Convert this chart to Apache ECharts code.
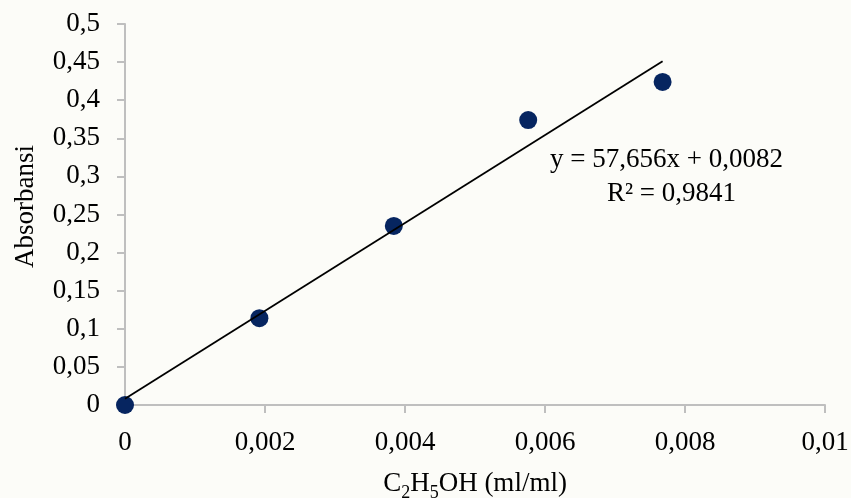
<!DOCTYPE html>
<html>
<head>
<meta charset="utf-8">
<script src="https://cdn.jsdelivr.net/npm/echarts@6/dist/echarts.min.js"></script>
<style>
html,body{margin:0;padding:0;background:#fcfcf8;}
#chart{width:851px;height:498px;}
</style>
</head>
<body>
<div id="chart"></div>
<script>
// Data
var concentration = [0, 0.00192, 0.00384, 0.00576, 0.00768];
var absorbance = [0, 0.114, 0.235, 0.374, 0.424];
var trendSlope = 57.656;
var trendIntercept = 0.0082;
var trendRange = [0, 0.00768];
var equationText = 'y = 57,656x + 0,0082';
var r2Text = 'R² = 0,9841';
var xTicks = [0, 0.002, 0.004, 0.006, 0.008, 0.01];
var yTicks = [0, 0.05, 0.1, 0.15, 0.2, 0.25, 0.3, 0.35, 0.4, 0.45, 0.5];

var font = '"Liberation Serif","Times New Roman",serif';
function fmt(v){ return String(+v.toFixed(6)).replace('.', ','); }

var chart = echarts.init(document.getElementById('chart'), null, {renderer:'canvas'});
var pts = concentration.map(function(x,i){ return [x, absorbance[i]]; });
var trend = trendRange.map(function(x){ return [x, trendSlope*x + trendIntercept]; });

chart.setOption({
  backgroundColor: '#fcfcf8',
  animation: false,
  grid: {left:125, right:26, top:24, bottom:93, containLabel:false, outerBoundsMode:'none'},
  xAxis: {
    type:'value', min:xTicks[0], max:xTicks[xTicks.length-1], interval:0.002,
    name:'{a|C}{s|2}{a|H}{s|5}{a|OH (ml/ml)}', nameLocation:'middle', nameGap:62,
    nameTextStyle:{rich:{
      a:{fontFamily:font, fontSize:27, color:'#000', verticalAlign:'bottom', lineHeight:30},
      s:{fontFamily:font, fontSize:18, color:'#000', verticalAlign:'bottom', lineHeight:22, padding:[0,0,-5,0]}
    }},
    axisLine:{show:true, lineStyle:{color:'#bfbfbf', width:2}},
    axisTick:{show:true, inside:false, length:8, lineStyle:{color:'#bfbfbf', width:2}},
    splitLine:{show:false},
    axisLabel:{fontFamily:font, fontSize:27, color:'#000', margin:24, formatter:fmt}
  },
  yAxis: {
    type:'value', min:yTicks[0], max:yTicks[yTicks.length-1], interval:0.05,
    name:'Absorbansi', nameLocation:'middle', nameGap:86,
    nameTextStyle:{fontFamily:font, fontSize:27, color:'#000', padding:[0,0,0,16]},
    axisLine:{show:true, lineStyle:{color:'#bfbfbf', width:2}},
    axisTick:{show:true, inside:false, length:8, lineStyle:{color:'#bfbfbf', width:2}},
    splitLine:{show:false},
    axisLabel:{fontFamily:font, fontSize:27, color:'#000', margin:25, formatter:fmt}
  },
  series: [
    {type:'scatter', data:pts, symbol:'circle', symbolSize:18, itemStyle:{color:'#062560', opacity:1}, z:2},
    {type:'line', data:trend, showSymbol:false, symbol:'none', lineStyle:{color:'#000', width:1.8}, z:3, silent:true}
  ],
  graphic: [
    {type:'text', left:550, top:146, style:{text:equationText, fontFamily:font, fontSize:27, fill:'#000'}},
    {type:'text', left:607, top:180, style:{text:r2Text, fontFamily:font, fontSize:27, fill:'#000'}}
  ]
});
</script>
</body>
</html>
